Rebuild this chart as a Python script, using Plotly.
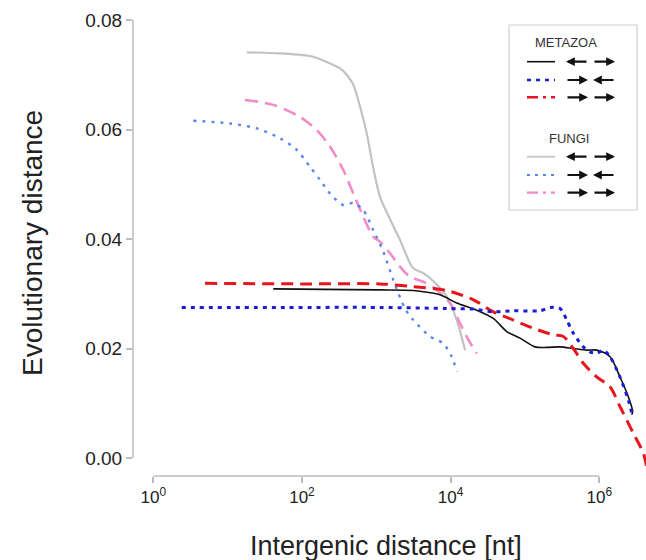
import plotly.graph_objects as go

# ---------------- data ----------------
# x: intergenic distance [nt], y: evolutionary distance
fungi_div_x = [18.1, 50.7, 141, 262, 340, 400, 486, 604, 743, 904, 1122, 1531, 2089, 3119, 4246, 6166, 8851, 12078, 15631]
fungi_div_y = [0.0741, 0.0739, 0.0733, 0.0718, 0.0710, 0.0700, 0.0683, 0.0642, 0.0593, 0.0532, 0.0477, 0.0436, 0.0398, 0.0347, 0.0338, 0.0320, 0.0295, 0.0252, 0.0197]

fungi_tan_x = [17.1, 41.1, 94.2, 158, 238, 360, 491, 637, 912, 1122, 1531, 2089, 2844, 4285, 6501, 9817, 13366, 17298, 22439]
fungi_tan_y = [0.0654, 0.0645, 0.0623, 0.0599, 0.0569, 0.0526, 0.0483, 0.0447, 0.0404, 0.0395, 0.0374, 0.0349, 0.0331, 0.0322, 0.0307, 0.0283, 0.0246, 0.0216, 0.0191]

fungi_con_x = [3.45, 10.8, 24.6, 50.7, 84.9, 128, 175, 238, 360, 491, 668, 912, 1242, 1694, 2432, 3148, 5284, 7980, 10351, 12078]
fungi_con_y = [0.0616, 0.0611, 0.0602, 0.0584, 0.0563, 0.0532, 0.0508, 0.0483, 0.0462, 0.0466, 0.0453, 0.0416, 0.0377, 0.0325, 0.0273, 0.0252, 0.0222, 0.0209, 0.0185, 0.0158]

meta_div_x = [41.1, 200, 1122, 3148, 7194, 12078, 22439, 37497, 56885, 85901, 136458, 196336, 296483, 446684, 677642, 922571, 1393157, 1896705, 2454709, 2811900, 2729000]
meta_div_y = [0.0309, 0.0308, 0.0307, 0.0306, 0.0298, 0.0283, 0.0270, 0.0255, 0.0231, 0.0219, 0.0203, 0.0202, 0.0203, 0.0200, 0.0197, 0.0197, 0.0185, 0.0148, 0.0112, 0.0085, 0.0079]

meta_con_x = [2.41, 60, 1122, 8851, 20184, 37497, 69663, 159221, 217270, 296483, 364754, 446684, 609537, 749894, 922571, 1132400, 1393157, 1896705, 2454709, 2811900]
meta_con_y = [0.0275, 0.0275, 0.0275, 0.0273, 0.0272, 0.0267, 0.0269, 0.0269, 0.0275, 0.0273, 0.0252, 0.0228, 0.0203, 0.0194, 0.0191, 0.0197, 0.0185, 0.0148, 0.0106, 0.0075]

meta_tan_x = [4.97, 100, 1122, 3148, 8851, 20184, 37497, 69663, 129420, 240436, 328095, 446684, 609537, 922571, 1393157, 1896705, 2870780, 3908409, 4335510]
meta_tan_y = [0.0319, 0.0318, 0.0318, 0.0313, 0.0306, 0.0289, 0.0267, 0.0252, 0.0237, 0.0225, 0.0222, 0.0200, 0.0173, 0.0148, 0.0130, 0.0094, 0.0045, 0.0009, -0.0016]

x_tickvals = [1, 100, 10000, 1000000]
x_ticktext = ["10<sup>0</sup>", "10<sup>2</sup>", "10<sup>4</sup>", "10<sup>6</sup>"]
y_tickvals = [0.00, 0.02, 0.04, 0.06, 0.08]
y_ticktext = ["0.00", "0.02", "0.04", "0.06", "0.08"]

# ---------------- styles ----------------
C_BLACK = "#111111"
C_BLUE = "#1c1cd8"
C_RED = "#e8161c"
C_GRAY = "#c2c2c2"
C_LBLUE = "#5a86ec"
C_PINK = "#f28cc6"

FONT = "Liberation Sans, Arial, Helvetica, sans-serif"

W, H = 646, 560
ML, MR, MT, MB = 133, 0, 10, 84
PW, PH = W - ML - MR, H - MT - MB


def px(xp):
    return (xp - ML) / PW


def py(yp):
    return (H - MB - yp) / PH


series = [
    (fungi_div_x, fungi_div_y, C_GRAY, 2.2, "solid"),
    (fungi_tan_x, fungi_tan_y, C_PINK, 2.6, "13px,7px"),
    (fungi_con_x, fungi_con_y, C_LBLUE, 2.4, "3px,6px"),
    (meta_div_x, meta_div_y, C_BLACK, 1.6, "solid"),
    (meta_tan_x, meta_tan_y, C_RED, 3.0, "12px,7px"),
    (meta_con_x, meta_con_y, C_BLUE, 3.0, "4px,5px"),
]

fig = go.Figure()
for xs, ys, col, w, dash in series:
    fig.add_trace(go.Scatter(
        x=xs, y=ys, mode="lines",
        line=dict(color=col, width=w, dash=dash, shape="spline", smoothing=0.8),
        showlegend=False, hoverinfo="skip",
    ))

shapes = []
annotations = []

# R-style axis lines spanning only the ticks
shapes.append(dict(type="line", xref="x", yref="paper", x0=1, x1=1000000, y0=0, y1=0,
                   line=dict(color="#bdbdbd", width=1.5)))
shapes.append(dict(type="line", xref="paper", yref="y", x0=0, x1=0, y0=0, y1=0.08,
                   line=dict(color="#bdbdbd", width=1.5)))

# legend box
shapes.append(dict(type="rect", xref="paper", yref="paper",
                   x0=px(509), x1=px(637), y0=py(210), y1=py(25),
                   line=dict(color="#cfcfcf", width=1.2), fillcolor="rgba(0,0,0,0)"))

annotations.append(dict(xref="paper", yref="paper", x=px(566), y=py(42), text="METAZOA",
                        showarrow=False, font=dict(family=FONT, size=13, color="#333333"),
                        xanchor="center", yanchor="middle"))
annotations.append(dict(xref="paper", yref="paper", x=px(569), y=py(138), text="FUNGI",
                        showarrow=False, font=dict(family=FONT, size=13, color="#333333"),
                        xanchor="center", yanchor="middle"))

legend_rows = [
    (61.7, C_BLACK, 1.6, "solid", "div"),
    (80.0, C_BLUE, 2.6, "4px,5px", "con"),
    (97.3, C_RED, 2.6, "11px,5px,3px,5px", "tan"),
    (156.7, C_GRAY, 1.8, "solid", "div"),
    (175.0, C_LBLUE, 2.2, "3px,5px", "con"),
    (192.7, C_PINK, 2.2, "11px,5px,3px,5px", "tan"),
]


def arrow(x_head, x_tail, yrow):
    return dict(xref="paper", yref="paper", x=px(x_head), y=py(yrow), text="",
                showarrow=True, arrowhead=2, arrowsize=0.8, arrowwidth=2.2,
                arrowcolor="#111111", ax=x_tail - x_head, ay=0, standoff=0)


for yrow, col, w, dash, kind in legend_rows:
    shapes.append(dict(type="line", xref="paper", yref="paper",
                       x0=px(527), x1=px(555), y0=py(yrow), y1=py(yrow),
                       line=dict(color=col, width=w, dash=dash)))
    if kind == "div":
        annotations.append(arrow(566, 588, yrow))
        annotations.append(arrow(615, 593, yrow))
    elif kind == "con":
        annotations.append(arrow(588, 566, yrow))
        annotations.append(arrow(593, 615, yrow))
    else:
        annotations.append(arrow(588, 566, yrow))
        annotations.append(arrow(615, 593, yrow))

# axis titles
annotations.append(dict(xref="paper", yref="paper", x=px(386), y=py(546),
                        text="Intergenic distance [nt]", showarrow=False,
                        font=dict(family=FONT, size=27, color="#222222"),
                        xanchor="center", yanchor="middle"))
annotations.append(dict(xref="paper", yref="paper", x=px(32), y=py(243),
                        text="Evolutionary distance", showarrow=False, textangle=-90,
                        font=dict(family=FONT, size=28, color="#222222"),
                        xanchor="center", yanchor="middle"))

fig.update_layout(
    width=W, height=H,
    margin=dict(l=ML, r=MR, t=MT, b=MB),
    paper_bgcolor="white", plot_bgcolor="white",
    font=dict(family=FONT, color="#222222"),
    shapes=shapes, annotations=annotations,
    showlegend=False,
)
fig.update_xaxes(
    type="log", range=[-0.273, 6.628],
    tickvals=x_tickvals, ticktext=x_ticktext,
    ticks="outside", ticklen=6, tickwidth=1.5, tickcolor="#bdbdbd",
    showgrid=False, zeroline=False, showline=False,
    tickfont=dict(family=FONT, size=17, color="#222222"),
)
fig.update_yaxes(
    range=[-0.003288, 0.08183],
    tickvals=y_tickvals, ticktext=y_ticktext,
    ticks="outside", ticklen=6, tickwidth=1.5, tickcolor="#bdbdbd",
    showgrid=False, zeroline=False, showline=False,
    tickfont=dict(family=FONT, size=19, color="#222222"),
)

fig.write_html(
    "out.html",
    config={"displayModeBar": False},
    post_script="document.body.style.margin='0';document.body.style.overflow='hidden';",
)
